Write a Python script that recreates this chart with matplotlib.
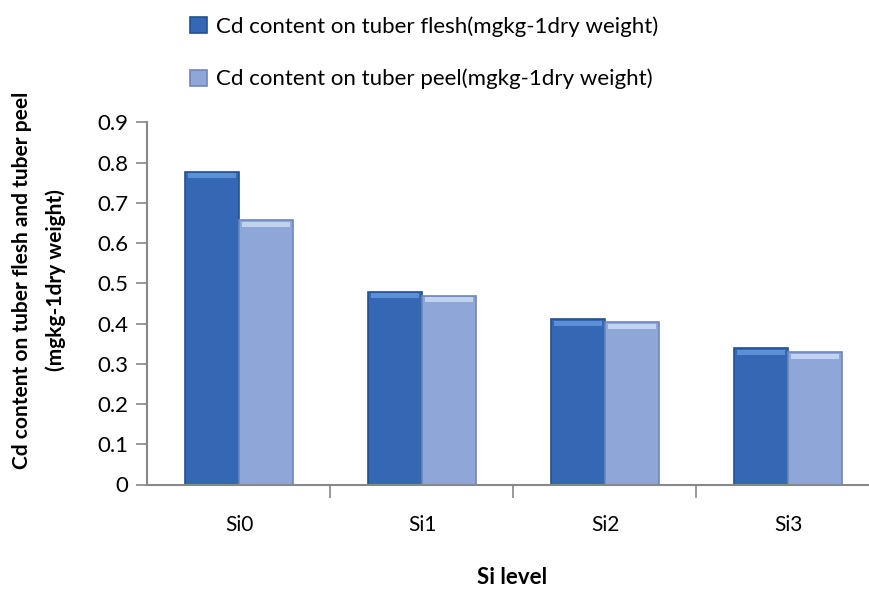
import numpy as np
import matplotlib
matplotlib.use("Agg")
import matplotlib.pyplot as plt

levels = ["Si0", "Si1", "Si2", "Si3"]
flesh = [0.777, 0.479, 0.411, 0.339]
peel = [0.657, 0.469, 0.403, 0.328]
flesh_label = "Cd content on tuber flesh(mgkg-1dry weight)"
peel_label = "Cd content on tuber peel(mgkg-1dry weight)"

plt.rcParams['font.family'] = ['Lato', 'DejaVu Sans']

fig = plt.figure(figsize=(8.7, 5.9), dpi=100)
ax = fig.add_axes([147.5 / 870, 1 - 484.5 / 590, 1 - 147.5 / 870, (484.5 - 122.3) / 590])

x = np.arange(len(levels))
w = 0.295
b1 = ax.bar(x - w / 2, flesh, w, color="#3468b4", edgecolor="#22508f", linewidth=1.2,
            label=flesh_label)
b2 = ax.bar(x + w / 2, peel, w, color="#8fa7d8", edgecolor="#6e86b8", linewidth=1.2,
            label=peel_label)

# light bevel on the bar tops
for bars, col in ((b1, "#5b8fd6"), (b2, "#c2d3f0")):
    for r in bars:
        ax.bar(r.get_x() + r.get_width() / 2, 0.012, r.get_width() * 0.9,
               bottom=r.get_height() - 0.016, color=col, linewidth=0)

ax.set_ylim(0, 0.9)
ax.set_yticks(np.arange(0, 0.91, 0.1))
ax.set_yticklabels(["0"] + ["%.1f" % v for v in np.arange(0.1, 0.91, 0.1)])
ax.set_xlim(-0.5, 3.5 - 9.5 / 183)
ax.set_xticks([0.5, 1.5, 2.5])
ax.set_xticklabels([])
ax.set_xticks(x, minor=True)
ax.set_xticklabels(levels, minor=True)
ax.tick_params(axis="x", which="major", length=9, width=1.2, color="#888888")
ax.tick_params(axis="x", which="minor", length=0, pad=22, labelsize=15)
ax.tick_params(axis="y", length=8, width=1.2, color="#888888", labelsize=16, pad=6)

for s in ("top", "right"):
    ax.spines[s].set_visible(False)
for s in ("left", "bottom"):
    ax.spines[s].set_color("#888888")
    ax.spines[s].set_linewidth(1.5)

fig.text(512 / 870, 1 - 578 / 590, "Si level", ha="center", va="center",
         fontsize=16, fontweight="bold")
fig.text(39 / 870, 1 - 280 / 590,
         "Cd content on tuber flesh and tuber peel\n(mgkg-1dry weight)",
         rotation=90, ha="center", va="center", multialignment="center",
         fontsize=15, fontweight="bold", linespacing=1.75)

handles = [b1, b2]
fig.legend(handles, [flesh_label, peel_label], loc="upper left",
           bbox_to_anchor=(170 / 870, 1 + 4 / 590), frameon=False, fontsize=16,
           labelspacing=1.45, handlelength=0.75, handleheight=0.75, handletextpad=0.4)

fig.savefig("out.png", dpi=100)
